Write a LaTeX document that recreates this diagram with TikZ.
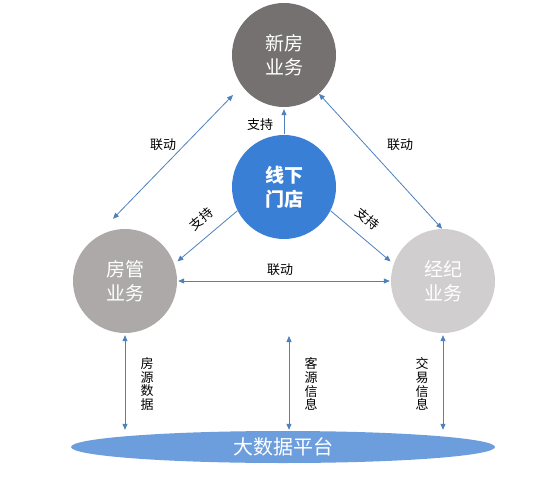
\documentclass[tikz,border=0pt]{standalone}
\usepackage{fontspec}
\setmainfont{Noto Sans CJK SC}
\usetikzlibrary{arrows.meta,shapes.geometric}
\tikzset{
  bizcircle/.style={circle,minimum size=104pt,inner sep=0pt,text=white,align=center,
    font=\fontsize{19}{24}\selectfont},
  linkarrow/.style={draw=arrowColor,line width=0.8pt,{Triangle[length=6pt,width=5pt]}-{Triangle[length=6pt,width=5pt]}},
  supportarrow/.style={draw=arrowColor,line width=0.8pt,-{Triangle[length=6pt,width=5pt]}},
  lbl/.style={text=black,inner sep=0pt,font=\fontsize{13}{14}\selectfont},
  vlbl/.style={lbl,align=center,font=\fontsize{13}{13.8}\selectfont}
}
\begin{document}
\begin{tikzpicture}[x=1pt,y=-1pt]
\definecolor{arrowColor}{RGB}{79,129,189}
\definecolor{xfColor}{RGB}{118,113,113}
\definecolor{mdColor}{RGB}{58,127,214}
\definecolor{fgColor}{RGB}{173,169,169}
\definecolor{jlColor}{RGB}{208,206,206}
\definecolor{dpColor}{RGB}{108,158,222}
\path[use as bounding box,fill=white] (0,0) rectangle (540,481);

\node[bizcircle,fill=xfColor] (xf) at (284,55) {新房\\业务};
\node[bizcircle,fill=mdColor,font=\fontsize{19}{24}\selectfont\bfseries] (md) at (284,187) {线下\\门店};
\node[bizcircle,fill=fgColor] (fg) at (125,281) {房管\\业务};
\node[bizcircle,fill=jlColor] (jl) at (443,281) {经纪\\业务};
\node[ellipse,fill=dpColor,minimum width=424pt,minimum height=32pt,inner sep=0pt,text=white,
  font=\fontsize{20}{20}\selectfont] (dp) at (283,447) {大数据平台};

\draw[linkarrow] ([shift={(-12,-10)}]fg.north) -- ([shift={(-51,40)}]xf.center);
\draw[linkarrow] (xf.-48) -- (jl.91);
\draw[linkarrow,shorten <=1pt,shorten >=1pt] (fg.east) -- (jl.west);

\draw[supportarrow,shorten <=1pt,shorten >=2pt] (md.north) -- (xf.south);
\draw[supportarrow,shorten >=4pt] (md.207) -- (fg.19);
\draw[supportarrow,shorten >=4pt] (md.-27) -- (jl.161);

\coordinate (ky) at (289,336);
\draw[linkarrow,shorten <=2pt,shorten >=1pt] (fg.south) -- (fg.south |- dp.north);
\draw[linkarrow,shorten >=1pt] (ky) -- (ky |- dp.north);
\draw[linkarrow,shorten <=2pt,shorten >=1pt] (jl.south) -- (jl.south |- dp.north);

\node[lbl] (ld1) at (163,145) {联动};
\node[lbl] (ld2) at (400,145) {联动};
\node[lbl] (ld3) at (280,270) {联动};
\node[lbl] (zc1) at (260,125) {支持};
\node[lbl,rotate=40] (zc2) at (201,219) {支持};
\node[lbl,rotate=-40] (zc3) at (368,219) {支持};

\node[vlbl] (fy) at (147,384) {房\\源\\数\\据};
\node[vlbl] (kx) at (311,384) {客\\源\\信\\息};
\node[vlbl] (jy) at (422,384) {交\\易\\信\\息};
\end{tikzpicture}
\end{document}
